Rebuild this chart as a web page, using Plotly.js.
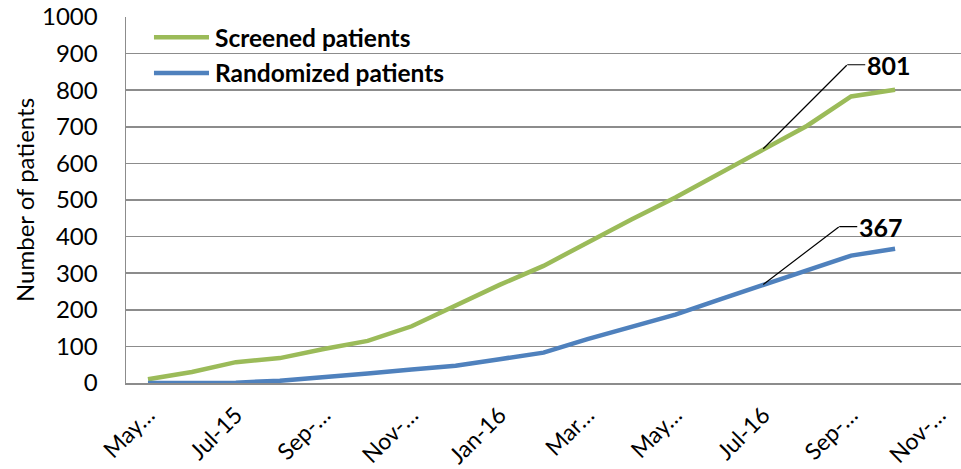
<!DOCTYPE html>
<html>
<head>
<meta charset="utf-8">
<script src="https://cdn.plot.ly/plotly-3.0.1.min.js"></script>
<style>
  html, body { margin: 0; padding: 0; background: #fff; }
  #chart { width: 961px; height: 469px; }
</style>
</head>
<body>
<div id="chart"></div>
<script>
// ---- data ----
const months = ['May-15','Jun-15','Jul-15','Aug-15','Sep-15','Oct-15','Nov-15','Dec-15',
                'Jan-16','Feb-16','Mar-16','Apr-16','May-16','Jun-16','Jul-16','Aug-16',
                'Sep-16','Oct-16','Nov-16'];
const screenedName = 'Screened patients';
const randomizedName = 'Randomized patients';
const screened   = [10, 30, 57, 68, 93, 115, 155, 212, 268, 320, 385, 447, 507, 572, 640, 703, 783, 801];
const randomized = [0, 0, 1, 6, 15, 26, 37, 47, 65, 83, 120, 153, 187, 228, 269, 309, 348, 367];
const tickMonths = ['May-15','Jul-15','Sep-15','Nov-15','Jan-16','Mar-16','May-16','Jul-16','Sep-16','Nov-16'];
const tickLabels = ['May…','Jul-15','Sep-…','Nov-…','Jan-16','Mar…','May…','Jul-16','Sep-…','Nov-…'];
const yTitle = 'Number of patients';

const green = '#9BBB59';
const blue = '#4F81BD';
const gridCol = '#8c8c8c';
const FONT = 'Lato, "Open Sans", sans-serif';

const xData = months.slice(0, screened.length);
const traces = [
  { x: xData, y: screened, type: 'scatter', mode: 'lines', name: screenedName,
    line: { color: green, width: 4.5 }, showlegend: false, hoverinfo: 'x+y' },
  { x: xData, y: randomized, type: 'scatter', mode: 'lines', name: randomizedName,
    line: { color: blue, width: 4.5 }, showlegend: false, hoverinfo: 'x+y' }
];

const lastS = screened.length - 1;
const lastR = randomized.length - 1;
const pointIdx = 14; // leader lines point at Jul-16

function leader(yv, label, dx, dy) {
  return [
    // diagonal part of the leader line
    { x: months[pointIdx], y: yv, text: ' ', showarrow: true, arrowhead: 0,
      arrowwidth: 1.2, arrowcolor: '#000', ax: dx, ay: -dy, standoff: 0,
      font: { size: 1 }, borderpad: 0 },
    // short horizontal part + bold label
    { x: months[pointIdx], y: yv, xshift: dx, yshift: dy, text: '<b>' + label + '</b>',
      showarrow: true, arrowhead: 0, arrowwidth: 1.2, arrowcolor: '#000',
      ax: 18, ay: 0, xanchor: 'left', yanchor: 'middle', standoff: 0,
      font: { family: FONT, size: 25, color: '#000' } }
  ];
}

const layout = {
  width: 961, height: 469,
  margin: { l: 126, r: 0, t: 17, b: 86, pad: 0 },
  paper_bgcolor: '#fff', plot_bgcolor: '#fff',
  font: { family: FONT, size: 24, color: '#000' },
  xaxis: {
    type: 'category', categoryorder: 'array', categoryarray: months,
    range: [-0.5, months.length - 0.5],
    tickmode: 'array', tickvals: tickMonths, ticktext: tickLabels,
    tickangle: -45, ticks: 'outside', ticklen: 8, tickcolor: 'rgba(0,0,0,0)',
    showgrid: false, zeroline: false,
    showline: true, linecolor: gridCol, linewidth: 1.5,
    tickfont: { family: FONT, size: 23, color: '#000' }
  },
  yaxis: {
    range: [0, 1000], dtick: 100, tick0: 0,
    ticks: 'outside', ticklen: 22, tickcolor: 'rgba(0,0,0,0)',
    showgrid: true, gridcolor: gridCol, gridwidth: 1.5,
    zeroline: false, showline: true, linecolor: gridCol, linewidth: 1.5,
    tickfont: { family: FONT, size: 24, color: '#000' },
    title: { text: yTitle, font: { family: FONT, size: 24, color: '#000' }, standoff: 0 }
  },
  shapes: [
    { type: 'line', xref: 'paper', yref: 'paper', x0: 0.0335, x1: 0.0994, y0: 0.945, y1: 0.945,
      line: { color: green, width: 4.5 } },
    { type: 'line', xref: 'paper', yref: 'paper', x0: 0.0335, x1: 0.0994, y0: 0.847, y1: 0.847,
      line: { color: blue, width: 4.5 } }
  ],
  annotations: [
    { xref: 'paper', yref: 'paper', x: 0.1042, y: 0.945, xanchor: 'left', yanchor: 'middle',
      text: '<b>' + screenedName + '</b>', showarrow: false, font: { family: FONT, size: 24.5, color: '#000' } },
    { xref: 'paper', yref: 'paper', x: 0.1042, y: 0.847, xanchor: 'left', yanchor: 'middle',
      text: '<b>' + randomizedName + '</b>', showarrow: false, font: { family: FONT, size: 24.5, color: '#000' } }
  ].concat(leader(screened[pointIdx], screened[lastS], 84, 84))
   .concat(leader(randomized[pointIdx], randomized[lastR], 76, 58))
};

Plotly.newPlot('chart', traces, layout, { displayModeBar: false, staticPlot: true });
</script>
</body>
</html>
